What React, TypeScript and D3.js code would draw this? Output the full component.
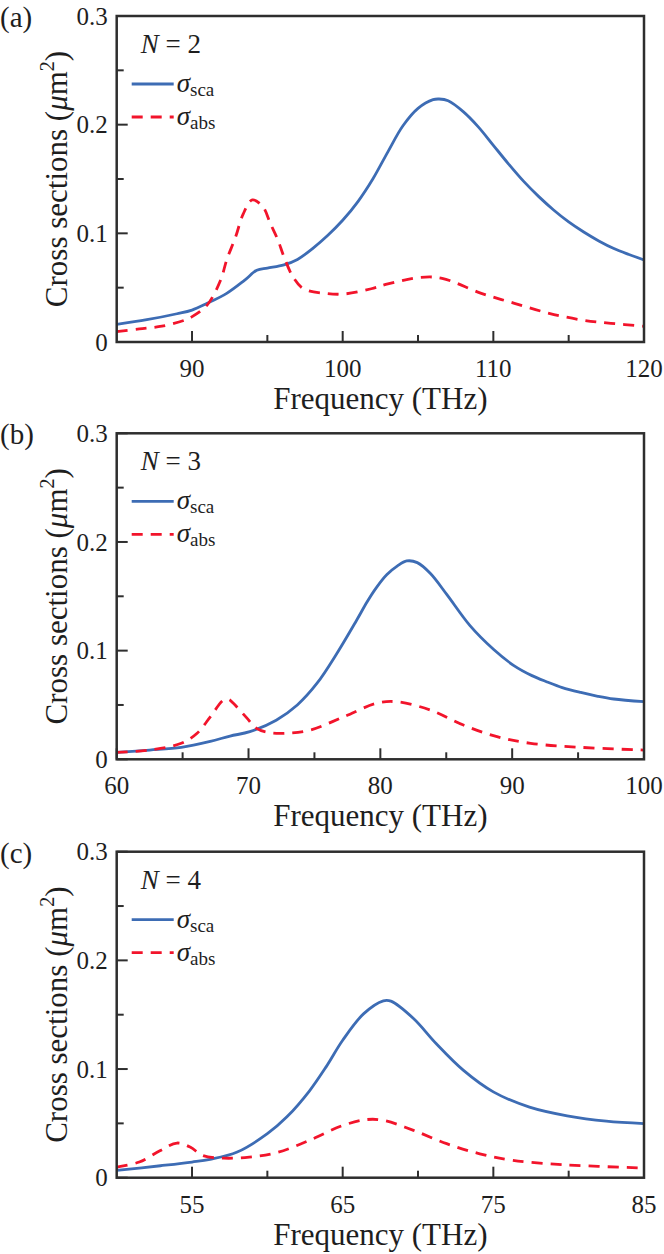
import { useEffect, useRef } from 'react';
import * as d3 from 'd3';

// ---- panel (a): N = 2 ----
const scaFreqA = [85, 87, 89, 90, 91, 92.3, 93.5, 94.3, 95, 96.1, 97, 98, 99, 100, 101, 102, 103, 104, 105, 106, 106.4, 107, 108, 109, 110, 111, 112, 113, 114, 115, 116, 117, 118, 119, 120];
const scaA = [0.0163, 0.0205, 0.026, 0.0294, 0.0356, 0.0448, 0.057, 0.066, 0.068, 0.071, 0.076, 0.086, 0.098, 0.112, 0.129, 0.15, 0.175, 0.199, 0.215, 0.223, 0.2236, 0.222, 0.212, 0.198, 0.181, 0.164, 0.148, 0.134, 0.1215, 0.1105, 0.1012, 0.093, 0.086, 0.0805, 0.0755];
const absFreqA = [85, 86.5, 88, 89.5, 90, 91, 91.9, 92.3, 92.9, 93.4, 94, 94.7, 95.2, 95.7, 96.1, 96.7, 97.4, 98.8, 100.1, 101.9, 103, 105.2, 106.6, 109.2, 111.4, 113.7, 115.9, 117.8, 120];
const absA = [0.0095, 0.012, 0.0145, 0.02, 0.0233, 0.034, 0.057, 0.0755, 0.097, 0.118, 0.1307, 0.1245, 0.109, 0.0939, 0.0785, 0.06, 0.049, 0.0448, 0.0442, 0.049, 0.0534, 0.0595, 0.0586, 0.0448, 0.0356, 0.0264, 0.0202, 0.0172, 0.0145];

// ---- panel (b): N = 3 ----
const scaFreqB = [60, 62.5, 64.9, 67.1, 68.6, 70.1, 72.1, 73.7, 75.2, 76.7, 78.2, 79, 79.7, 80.5, 81.3, 82, 82.8, 83.8, 85.05, 86.8, 88.6, 90.1, 91.5, 92.65, 93.8, 95.2, 96.5, 97.7, 100];
const scaB = [0.0064, 0.0085, 0.011, 0.0165, 0.0214, 0.0254, 0.036, 0.05, 0.07, 0.0974, 0.128, 0.145, 0.158, 0.17, 0.178, 0.1825, 0.181, 0.171, 0.1515, 0.123, 0.101, 0.0865, 0.077, 0.0712, 0.066, 0.0615, 0.058, 0.0555, 0.053];
const absFreqB = [60, 62.5, 64.9, 66.1, 67.1, 68.1, 68.5, 68.85, 69.9, 70.6, 71.6, 72.9, 74.7, 77.2, 79.7, 81.2, 83.8, 86.3, 88.85, 91.4, 95.2, 100];
const absB = [0.0064, 0.0085, 0.0147, 0.024, 0.039, 0.0545, 0.055, 0.0515, 0.0377, 0.0285, 0.0245, 0.024, 0.027, 0.039, 0.0515, 0.053, 0.0453, 0.0315, 0.0208, 0.0147, 0.011, 0.0085];

// ---- panel (c): N = 4 ----
const scaFreqC = [50, 52.9, 55, 56.2, 58, 60, 61.3, 62.8, 63.9, 65, 66.4, 67.7, 68.2, 69.7, 71.2, 73, 75, 77.4, 79.9, 82.5, 85];
const scaC = [0.0067, 0.011, 0.0144, 0.0169, 0.0236, 0.0405, 0.056, 0.08, 0.102, 0.1265, 0.151, 0.1628, 0.1625, 0.1465, 0.1235, 0.099, 0.079, 0.065, 0.057, 0.052, 0.0498];
const absFreqC = [50, 51.5, 52.9, 54, 54.9, 55.7, 57.1, 58.8, 60.6, 62.8, 65, 66.6, 67.7, 69.7, 71.9, 74.1, 76.3, 79.6, 85];
const absC = [0.0098, 0.0144, 0.025, 0.0319, 0.028, 0.0205, 0.018, 0.019, 0.023, 0.0344, 0.048, 0.0535, 0.0528, 0.0436, 0.0313, 0.022, 0.016, 0.012, 0.0089];

// ---- axes ----
const yMajor = [0, 0.1, 0.2, 0.3];
const yMinor = [0.05, 0.15, 0.25];
const yTickLabels = ['0', '0.1', '0.2', '0.3'];

const xDomainA = [85, 120];
const xMajorA = [90, 100, 110, 120];
const xMinorA = [95, 105, 115];
const xDomainB = [60, 100];
const xMajorB = [60, 70, 80, 90, 100];
const xMinorB = [65, 75, 85, 95];
const xDomainC = [50, 85];
const xMajorC = [55, 65, 75, 85];
const xMinorC = [60, 70, 80];

const panelLabels = ['(a)', '(b)', '(c)'];
const nValues = ['2', '3', '4'];

const FONT = "'Liberation Serif', 'DejaVu Serif', serif";
const BLUE = '#3d6cb4';
const RED = '#f2142b';
const AXIS = '#2e2e2e';

type Panel = {
  top: number;
  xDomain: number[];
  xMajor: number[];
  xMinor: number[];
  scaF: number[];
  sca: number[];
  absF: number[];
  abs: number[];
};

const panels: Panel[] = [
  { top: 16, xDomain: xDomainA, xMajor: xMajorA, xMinor: xMinorA, scaF: scaFreqA, sca: scaA, absF: absFreqA, abs: absA },
  { top: 433.3, xDomain: xDomainB, xMajor: xMajorB, xMinor: xMinorB, scaF: scaFreqB, sca: scaB, absF: absFreqB, abs: absB },
  { top: 851.7, xDomain: xDomainC, xMajor: xMajorC, xMinor: xMinorC, scaF: scaFreqC, sca: scaC, absF: absFreqC, abs: absC },
];

const LEFT = 116.7;
const RIGHT = 644;
const PANEL_H = 326;

export default function App() {
  const svgRef = useRef<SVGSVGElement>(null);

  useEffect(() => {
    if (!svgRef.current) return;
    const svg = d3.select(svgRef.current);
    svg.selectAll('*').remove();

    const txt = (sel: d3.Selection<any, unknown, null, undefined>, size: number) =>
      sel.attr('font-family', FONT).attr('font-size', size).attr('fill', '#1e1e1e');

    panels.forEach((p, i) => {
      const bottom = p.top + PANEL_H;
      const x = d3.scaleLinear().domain(p.xDomain).range([LEFT, RIGHT]);
      const y = d3.scaleLinear().domain([0, 0.3]).range([bottom, p.top]);
      const g = svg.append('g');

      // curves
      const line = d3.line<[number, number]>()
        .x(d => x(d[0]))
        .y(d => y(d[1]))
        .curve(d3.curveCatmullRom.alpha(0.5));

      g.append('path')
        .datum(p.scaF.map((f, k) => [f, p.sca[k]] as [number, number]))
        .attr('fill', 'none')
        .attr('stroke', BLUE)
        .attr('stroke-width', 2.8)
        .attr('d', line);

      g.append('path')
        .datum(p.absF.map((f, k) => [f, p.abs[k]] as [number, number]))
        .attr('fill', 'none')
        .attr('stroke', RED)
        .attr('stroke-width', 2.8)
        .attr('stroke-dasharray', '11,8')
        .attr('d', line);

      // frame
      g.append('rect')
        .attr('x', LEFT)
        .attr('y', p.top)
        .attr('width', RIGHT - LEFT)
        .attr('height', PANEL_H)
        .attr('fill', 'none')
        .attr('stroke', AXIS)
        .attr('stroke-width', 2.5);

      // ticks (inward)
      p.xMajor.forEach(v => {
        g.append('line').attr('x1', x(v)).attr('x2', x(v)).attr('y1', bottom).attr('y2', bottom - 11)
          .attr('stroke', AXIS).attr('stroke-width', 2);
        txt(g.append('text'), 25).attr('x', x(v)).attr('y', bottom + 35)
          .attr('text-anchor', 'middle')
          .text(String(v));
      });
      p.xMinor.forEach(v => {
        g.append('line').attr('x1', x(v)).attr('x2', x(v)).attr('y1', bottom).attr('y2', bottom - 7)
          .attr('stroke', AXIS).attr('stroke-width', 2);
      });
      yMajor.forEach((v, k) => {
        g.append('line').attr('x1', LEFT).attr('x2', LEFT + 11).attr('y1', y(v)).attr('y2', y(v))
          .attr('stroke', AXIS).attr('stroke-width', 2);
        txt(g.append('text'), 25).attr('x', LEFT - 9).attr('y', y(v)).attr('dy', '0.35em')
          .attr('text-anchor', 'end')
          .text(yTickLabels[k]);
      });
      yMinor.forEach(v => {
        g.append('line').attr('x1', LEFT).attr('x2', LEFT + 7).attr('y1', y(v)).attr('y2', y(v))
          .attr('stroke', AXIS).attr('stroke-width', 2);
      });

      // axis titles
      txt(g.append('text'), 31)
        .attr('x', (LEFT + RIGHT) / 2)
        .attr('y', bottom + 67)
        .attr('text-anchor', 'middle')
        .text('Frequency (THz)');

      const yt = txt(g.append('text'), 31)
        .attr('transform', `translate(67,${p.top + PANEL_H / 2}) rotate(-90)`)
        .attr('text-anchor', 'middle');
      yt.append('tspan').text('Cross sections (');
      yt.append('tspan').attr('font-style', 'italic').text('μ');
      yt.append('tspan').text('m');
      yt.append('tspan').attr('font-size', 20).attr('dy', -13).text('2');
      yt.append('tspan').attr('dy', 13).text(')');

      // panel label
      txt(g.append('text'), 29)
        .attr('x', 0)
        .attr('y', p.top + 11)
        .text(panelLabels[i]);

      // N label
      const nt = txt(g.append('text'), 27)
        .attr('x', LEFT + 24)
        .attr('y', p.top + 37);
      nt.append('tspan').attr('font-style', 'italic').text('N');
      nt.append('tspan').text(` = ${nValues[i]}`);

      // legend
      const rows = [
        { y: p.top + 68, color: BLUE, dash: null as string | null, sub: 'sca' },
        { y: p.top + 101, color: RED, dash: '11,8', sub: 'abs' },
      ];
      rows.forEach(r => {
        const l = g.append('line')
          .attr('x1', LEFT + 15).attr('x2', LEFT + 57)
          .attr('y1', r.y).attr('y2', r.y)
          .attr('stroke', r.color).attr('stroke-width', 2.8);
        if (r.dash) l.attr('stroke-dasharray', r.dash);
        const t = txt(g.append('text'), 27)
          .attr('x', LEFT + 60)
          .attr('y', r.y + 8);
        t.append('tspan').attr('font-style', 'italic').text('σ');
        t.append('tspan').attr('font-size', 19).attr('dy', 4).text(r.sub);
      });
    });
  }, []);

  return (
    <svg
      ref={svgRef}
      width={664}
      height={1254}
      style={{ position: 'absolute', left: 0, top: 0, display: 'block', background: '#fff' }}
    />
  );
}
